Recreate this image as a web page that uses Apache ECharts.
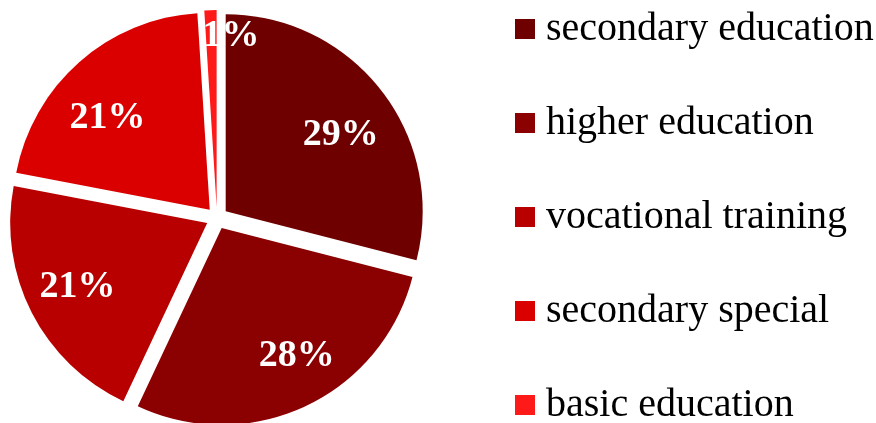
<!DOCTYPE html>
<html><head><meta charset="utf-8">
<script src="https://cdn.jsdelivr.net/npm/echarts@6/dist/echarts.min.js"></script>
<style>html,body{margin:0;padding:0;background:#fff}#c{width:876px;height:423px}</style>
</head><body><div id="c"></div>
<script>
const categories = ['secondary education','higher education','vocational training','secondary special','basic education'];
const values = [29, 28, 21, 21, 1];
const colors = ['#6E0000','#8B0000','#B80000','#DA0000','#FF1A1A'];
// per-label nudges (style only): horizontal via padding, vertical via line height
const labelNudgeX = [0, 13, 0, -6, 19];
const labelNudgeY = [13, -3, -2, 18, -25];

const chart = echarts.init(document.getElementById('c'), null, {renderer:'canvas'});
const center = [217, 218];
const R = 197;
const OFF = 11;

const visData = categories.map((n,i)=>({name:n, value:values[i], selected:true, itemStyle:{color:colors[i]}}));
const labData = categories.map((n,i)=>{
  const dx = labelNudgeX[i], dy = labelNudgeY[i];
  return {name:n, value:values[i], selected:true,
    label:{padding:[0, dx<0?-2*dx:0, 0, dx>0?2*dx:0], lineHeight:Math.max(2, 2*Math.abs(dy))}};
});

chart.setOption({
  animation:false,
  legend:{
    orient:'vertical', left:515, top:9, height:440, padding:0,
    itemWidth:20, itemHeight:20, icon:'rect', itemGap:54,
    selectedMode:false,
    textStyle:{fontFamily:'Liberation Serif', fontSize:40, color:'#000', lineHeight:40, padding:[0,0,0,6]},
    data:categories
  },
  series:[
    {
      type:'pie', center:center, radius:[0,R], startAngle:90, clockwise:true,
      selectedMode:'multiple', selectedOffset:OFF,
      label:{show:false}, labelLine:{show:false},
      emphasis:{disabled:true}, silent:true,
      data:visData
    },
    {
      type:'pie', center:center, radius:[88,R], startAngle:90, clockwise:true,
      selectedMode:'multiple', selectedOffset:OFF,
      itemStyle:{color:'rgba(0,0,0,0)'},
      label:{show:true, position:'inside', color:'#fff',
        fontFamily:'Liberation Serif', fontWeight:'bold', fontSize:38,
        formatter:function(p){
          const t = p.value + '%';
          const dy = labelNudgeY[p.dataIndex];
          return dy > 0 ? '\n' + t : t + '\n';
        }},
      labelLine:{show:false},
      emphasis:{disabled:true}, silent:true, legendHoverLink:false,
      data:labData
    }
  ]
});
</script></body></html>
